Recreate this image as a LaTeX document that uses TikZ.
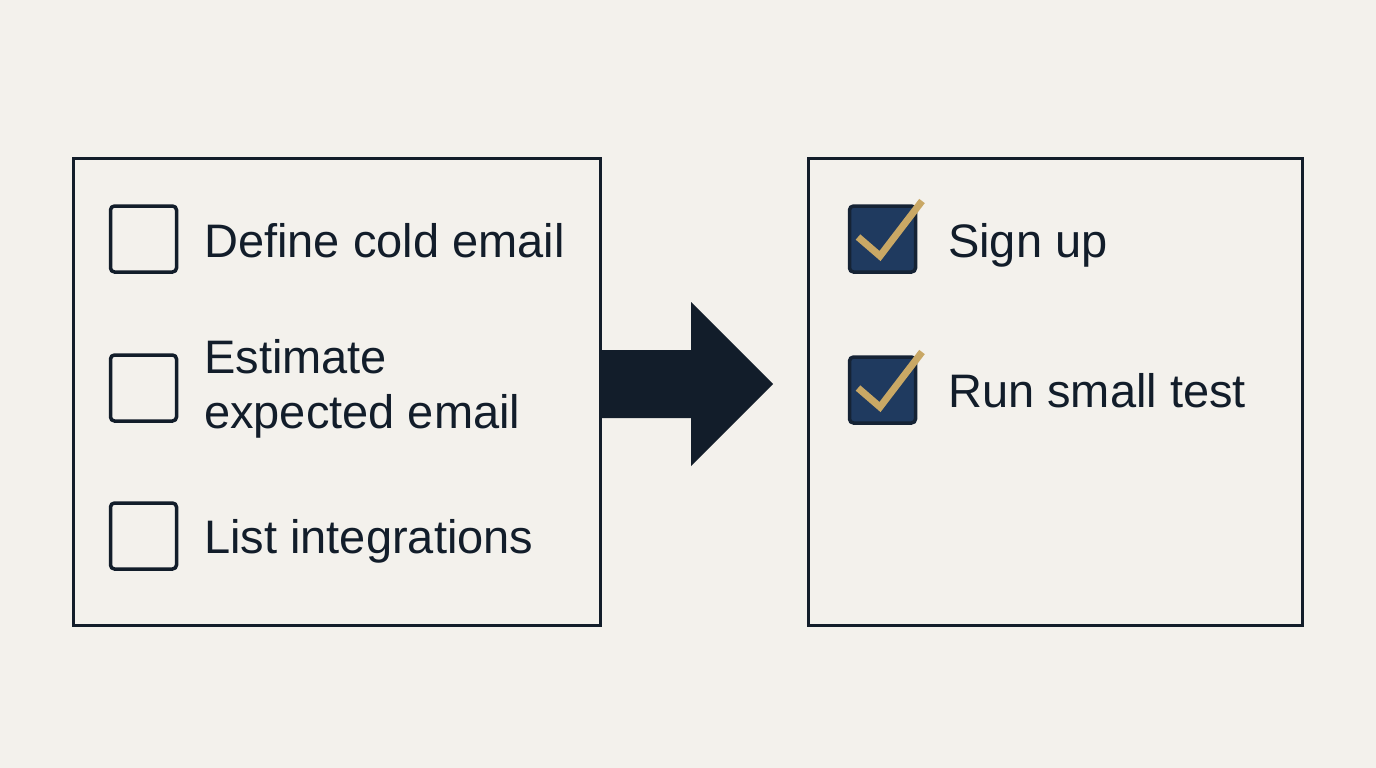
\documentclass[tikz,border=0pt]{standalone}
\usepackage{fontspec}
\setmainfont{Liberation Sans}
\usepackage{tikz}
\usetikzlibrary{positioning}
\usepackage{xcolor}

\definecolor{paper}{HTML}{F3F1EC}
\definecolor{ink}{HTML}{121D2A}
\definecolor{navy}{HTML}{1F3A5F}
\definecolor{gold}{HTML}{C9A865}

\tikzset{
    panel/.style={draw=ink, line width=3pt, minimum width=527, minimum height=467, inner sep=0},
    openbox/.style={draw=ink, line width=3.5pt, rounded corners=4pt, minimum size=66, inner sep=0},
    donebox/.style={openbox, fill=navy, draw=ink!80!navy},
    tick/.style={gold, line width=7pt},
    item/.style={anchor=base west, inner sep=0, text=ink, font=\fontsize{47}{55}\selectfont, align=left}
}

\begin{document}
\begin{tikzpicture}[x=1pt, y=-1pt]
    \fill[paper] (0,0) rectangle (1376,768);
    \useasboundingbox (0,0) rectangle (1376,768);

    % to-do panel
    \node[panel] (todo) at (336.5, 391.5) {};
    \node[openbox] (b1) at (143.5, 239) {};
    \node[openbox] (b2) at (143.5, 388) {};
    \node[openbox] (b3) at (143.5, 536) {};
    \node[item] (t1) at (204, 257) {Define cold email};
    \node[item] (t2) at (204, 428) {Estimate\\expected email};
    \node[item] (t3) at (204, 553) {List integrations};

    % done panel
    \node[panel, minimum width=494] (done) at (1055, 391.5) {};
    \node[donebox] (c1) at (882.5, 239) {};
    \node[donebox] (c2) at (882.5, 390) {};
    \draw[tick] (858, 237) -- (880, 256) -- (922, 201);
    \draw[tick] (858, 388) -- (880, 407) -- (922, 352);
    \node[item] (s1) at (948, 257) {Sign up};
    \node[item] (s2) at (948, 407) {Run small test};

    % arrow between panels
    \coordinate (tip) at (773, 384);
    \fill[ink] (todo.east |- 0,350) -- (691,350) -- (691,302) -- (tip)
        -- (691,466) -- (691,418) -- (todo.east |- 0,418) -- cycle;
\end{tikzpicture}
\end{document}
